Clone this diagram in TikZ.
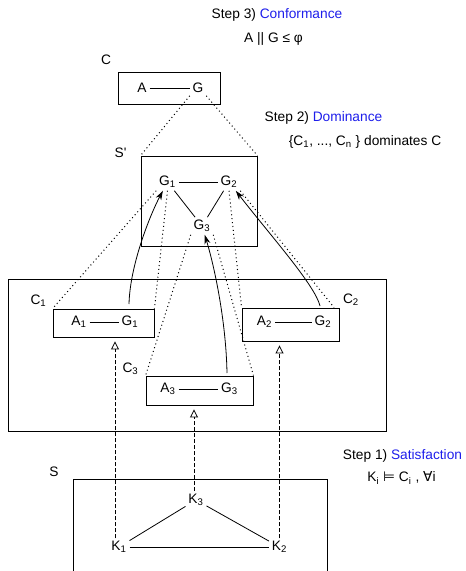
\documentclass[tikz,border=0pt]{standalone}
\usepackage{fontspec}
\setmainfont{Liberation Sans}
\newfontfamily\symfont{DejaVu Sans}
\usetikzlibrary{arrows.meta}

\definecolor{stepblue}{RGB}{30,30,235}
\newcommand{\pxu}{0.75pt}

\begin{document}
\begin{tikzpicture}[x=0.75pt, y=-0.75pt,
    font=\fontsize{10.3}{12}\selectfont,
    every node/.style={inner sep=2pt},
    box/.style 2 args={draw, line width=0.65pt, inner sep=0pt,
      minimum width=#1*\pxu, minimum height=#2*\pxu},
    link/.style={line width=0.6pt},
    proj/.style={line width=0.75pt, dash pattern=on 0.75pt off 2.2pt},
    lift/.style={line width=0.6pt, -{Stealth[length=7pt,width=4.5pt]}},
    sat/.style={line width=0.6pt, dash pattern=on 3pt off 1.5pt,
      -{Triangle[open,length=6pt,width=6pt]}, shorten >=3pt}]
    \useasboundingbox (0,0) rectangle (465,571);

    % the steps
    \node at (277,15) {Step 3) \textcolor{stepblue}{Conformance}};
    \node at (273.5,39) {A || G ≤ φ};
    \node at (323.5,118) {Step 2) \textcolor{stepblue}{Dominance}};
    \node at (365,142) {\{C\textsubscript{1}, ..., C\textsubscript{n} \} dominates C};
    \node at (402.5,456) {Step 1) \textcolor{stepblue}{Satisfaction}};
    \node at (401.5,478) {K\textsubscript{i} {\symfont ⊨} C\textsubscript{i} , {\symfont ∀}i};

    % top contract C
    \node at (106,60) {C};
    \node[box={102}{32}] (cc) at (169,88) {};
    \node (a) at (142,88) {A};
    \node (g) at (198,88) {G};
    \draw[link] (a) -- (g);

    % composed guarantees S'
    \node at (120.5,153) {S\textquotesingle};
    \node[box={116}{90}] (sp) at (199,201) {};
    \node (g1s) at (167.5,182) {G\textsubscript{1}};
    \node (g2s) at (229,182) {G\textsubscript{2}};
    \node (g3s) at (202,226) {G\textsubscript{3}};
    \draw[link] (g1s) -- (g2s);
    \draw[link] (g1s) -- (g3s);
    \draw[link] (g2s) -- (g3s);

    \draw[proj] (g.south west) -- (sp.north west);
    \draw[proj] (g.south east) -- (sp.north east);

    % the contracts C_i
    \node[box={378}{152}] (big) at (197,355) {};
    \foreach \i/\cx/\cy/\w/\h/\ax/\gx/\ty in {1/103.5/323/101/28/79/130/322,
        2/290.5/324.5/97/33/264.5/323/322, 3/199.5/390.5/107/29/168/229.5/389} {
      \node[box={\w}{\h}] (c\i) at (\cx,\cy) {};
      \node (a\i) at (\ax,\ty) {A\textsubscript{\i}};
      \node (g\i) at (\gx,\ty) {G\textsubscript{\i}};
      \draw[link] (a\i) -- (g\i);
    }
    \node at (38.5,301) {C\textsubscript{1}};
    \node at (351,300) {C\textsubscript{2}};
    \node at (130.5,369) {C\textsubscript{3}};

    \draw[proj] (g1s.south west) -- (c1.north west);
    \draw[proj] (g1s.south) -- (c1.north east);
    \draw[proj] (g3s.south west) -- (c3.north west);
    \draw[proj] (g3s.south east) -- (c3.north east);
    \draw[proj] (g2s.south) -- (c2.north west);
    \draw[proj] (g2s.south east) -- ([xshift=-4pt]c2.north east);

    \coordinate (g1up) at (129,304);
    \coordinate (g2up) at (320,306);
    \coordinate (g3up) at (227,373);
    \draw[lift] (g1up) .. controls (130,265) and (150,215) .. (g1s);
    \draw[lift] (g3up) .. controls (226,320) and (214,265) .. (g3s);
    \draw[lift] (g2up) .. controls (315,285) and (270,235) .. (g2s);

    % the system S
    \node at (54,472) {S};
    \node[box={254}{121}] (s) at (200,539.5) {};
    \node (k3) at (196,500) {K\textsubscript{3}};
    \node (k1) at (119,547) {K\textsubscript{1}};
    \node (k2) at (279.5,547) {K\textsubscript{2}};
    \draw[link] (k1) -- (k2);
    \draw[link] (k1) -- (k3);
    \draw[link] (k3) -- (k2);

    \draw[sat] ([xshift=-3pt]k1.north) -- ([xshift=-3pt]k1.north |- c1.south);
    \draw[sat] ([xshift=-1.5pt]k3.north) -- ([xshift=-1.5pt]k3.north |- c3.south);
    \draw[sat] (k2.north) -- (k2.north |- c2.south);
\end{tikzpicture}
\end{document}
